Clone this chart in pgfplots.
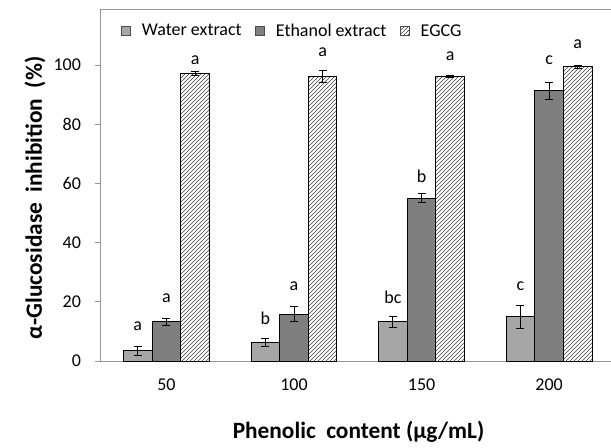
\documentclass[border=0pt]{standalone}
\usepackage{fontspec}
\setmainfont{Carlito}
\usepackage{pgfplots}
\usepackage{pgfplotstable}
\pgfplotsset{compat=1.18}
\usetikzlibrary{patterns}
\definecolor{waterc}{RGB}{166,166,166}
\definecolor{ethc}{RGB}{127,127,127}
\definecolor{axc}{RGB}{150,150,150}

\pgfplotstableread{
x y err
0 3.4 1.6
1 6.3 1.3
2 13.2 2.0
3 14.9 3.9
}\water
\pgfplotstableread{
x y err
0 13.2 1.3
1 15.8 2.6
2 55.1 1.4
3 91.3 2.9
}\ethanol
\pgfplotstableread{
x y err
0 97.2 0.6
1 96.1 2.1
2 96.1 0.3
3 99.4 0.4
}\egcg

\begin{document}
\begin{tikzpicture}
\useasboundingbox (-75.75pt,-64.5pt) rectangle (382.5pt,270.75pt);
\begin{axis}[
  at={(0pt,0pt)}, anchor=south west,
  scale only axis, width=382.5pt, height=264pt,
  ymin=0, ymax=119, xmin=-0.513, xmax=3.485,
  axis x line*=bottom, axis y line*=left,
  axis line style={axc, line width=0.75pt},
  ybar=0pt, bar width=0.2247,
  ytick={0,20,40,60,80,100},
  ytick style={axc, line width=0.75pt},
  tick align=outside, major tick length=4.5pt,
  yticklabel style={font=\fontsize{13.5}{15}\selectfont, xshift=-7pt},
  xtick={0,1,2,3}, xticklabels={50,100,150,200},
  xtick style={draw=none},
  xticklabel style={font=\fontsize{13.5}{15}\selectfont, yshift=-5pt},
  extra x ticks={0.5,1.5,2.5}, extra x tick labels={},
  extra x tick style={tick align=inside, major tick style={axc, line width=0.75pt}},
  /pgf/number format/assume math mode=true,
  xlabel={\textbf{Phenolic\ \ content (μg/mL)}},
  xlabel style={at={(axis description cs:0.505,-0.2017)}, anchor=center, font=\fontsize{17.5}{20}\selectfont},
  ylabel={\textbf{α-Glucosidase\ \ inhibition\ \ (\%)}},
  ylabel style={at={(axis description cs:-0.1294,0.463)}, anchor=center, rotate=0, font=\fontsize{17.5}{20}\selectfont},
  legend style={at={(0.031,0.937)}, anchor=west, draw=none, fill=none,
    font=\fontsize{13.5}{15}\selectfont,
    /tikz/every even column/.append style={column sep=8pt}},
  legend columns=3,
  legend image code/.code={\draw[#1, draw=black!70, line width=0.6pt] (0pt,-3.4pt) rectangle (6.8pt,3.4pt); \node[inner sep=0pt, minimum width=13pt, minimum height=1pt, anchor=west, draw=none, fill=none] at (0pt,0pt) {};},
  error bars/error bar style={black, line width=0.75pt},
  error bars/error mark options={rotate=90, mark size=3pt, black, line width=0.75pt},
  clip=false,
]
\addplot[fill=waterc, draw=black, line width=0.75pt,
  error bars/.cd, y dir=both, y explicit]
  table[x=x, y=y, y error=err]{\water};
\addlegendentry{Water extract}
\addplot[fill=ethc, draw=black, line width=0.75pt,
  error bars/.cd, y dir=both, y explicit]
  table[x=x, y=y, y error=err]{\ethanol};
\addlegendentry{Ethanol extract}
\addplot[fill=white, postaction={pattern=north east lines, pattern color=black!75}, draw=black, line width=0.75pt,
  error bars/.cd, y dir=both, y explicit]
  table[x=x, y=y, y error=err]{\egcg};
\addlegendentry{EGCG}
\draw[axc, line width=0.75pt] (rel axis cs:0,1) -- (rel axis cs:1,1);
\begin{scope}[every node/.style={font=\fontsize{13.5}{15}\selectfont, anchor=center}]
\node at (axis cs:-0.2247,11.8) {a};
\node at (axis cs:0,21.4) {a};
\node at (axis cs:0.2247,101.7) {a};
\node at (axis cs:0.7753,14.6) {b};
\node at (axis cs:1,25.3) {a};
\node at (axis cs:1.2247,104.5) {a};
\node at (axis cs:1.7753,21.7) {bc};
\node at (axis cs:2,62.3) {b};
\node at (axis cs:2.2247,103) {a};
\node at (axis cs:2.7753,25.3) {c};
\node at (axis cs:3,101.7) {c};
\node at (axis cs:3.2247,107) {a};
\end{scope}
\end{axis}
\end{tikzpicture}
\end{document}
